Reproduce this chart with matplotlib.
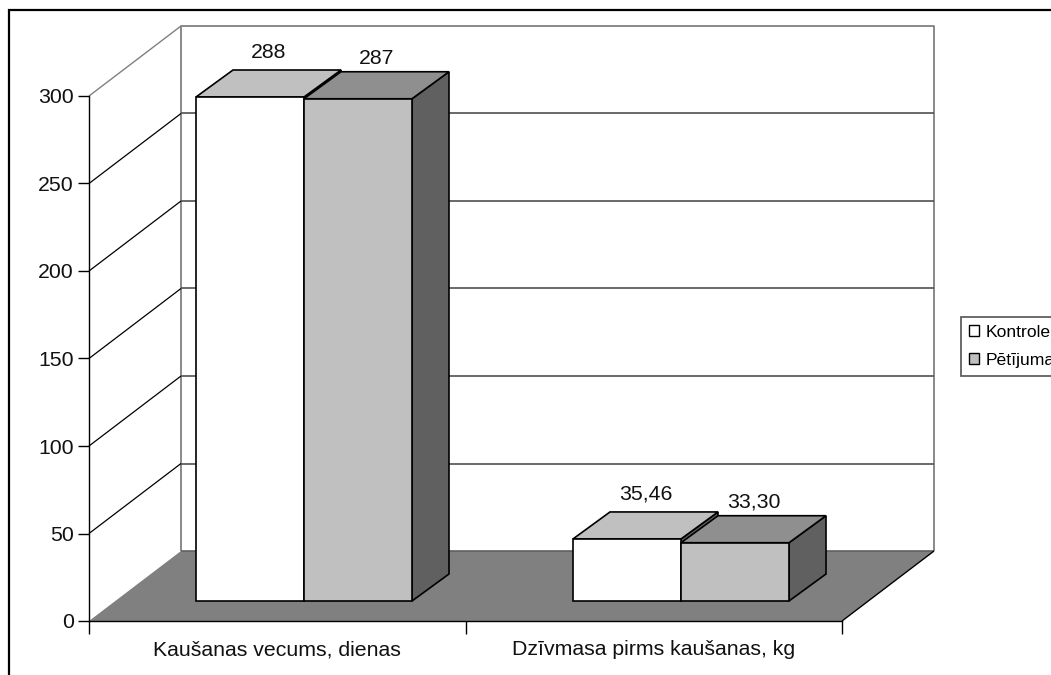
import matplotlib
matplotlib.use("Agg")
from matplotlib import pyplot as plt
from matplotlib.patches import Patch, Polygon, Rectangle

categories = ["Kaušanas vecums, dienas", "Dzīvmasa pirms kaušanas, kg"]
series_names = ["Kontrole", "Pētījuma"]
kontrole = [288, 35.46]
petijuma = [287, 33.30]
kontrole_labels = ["288", "35,46"]
petijuma_labels = ["287", "33,30"]
y_ticks = [0, 50, 100, 150, 200, 250, 300]

plt.rcParams["font.family"] = ["Liberation Sans", "DejaVu Sans"]

W, H = 1051, 675
fig = plt.figure(figsize=(W / 100, H / 100), dpi=100)

# priekšējā plakne: x 89..842, y 621..96 pikseļos
ax = fig.add_axes([89 / W, 1 - 621 / H, 753 / W, 525 / H])
ax.set_xlim(0, 2)
ax.set_ylim(0, 300)
ax.patch.set_alpha(0)

px_x = 2 / 753
px_y = 300 / 525
depth_x = 92 * px_x
depth_y = 70 * px_y


def poly(points, face, edge="black", lw=1.2, z=2):
    ax.add_patch(Polygon(points, closed=True, facecolor=face, edgecolor=edge,
                         linewidth=lw, clip_on=False, zorder=z, joinstyle="miter"))


def line(xs, ys, color="black", lw=1.0, z=1):
    ax.plot(xs, ys, color=color, lw=lw, clip_on=False, zorder=z, solid_capstyle="butt")


# grīda un sienas
poly([(0, 0), (2, 0), (2 + depth_x, depth_y), (depth_x, depth_y)], "#808080", edge="none", z=1)
line([depth_x, depth_x, 2 + depth_x, 2 + depth_x], [depth_y, 300 + depth_y, 300 + depth_y, depth_y],
     color="#808080", lw=1.3)
line([depth_x, 2 + depth_x], [depth_y, depth_y], color="#606060", lw=1.2)
line([2, 2 + depth_x], [0, depth_y], lw=1.0)
line([0, depth_x], [300, 300 + depth_y], color="#808080", lw=1.0)
for t in y_ticks[1:-1]:
    line([0, depth_x], [t, t + depth_y], lw=0.9)
    line([depth_x, 2 + depth_x], [t + depth_y, t + depth_y], color="#505050", lw=1.2)


# stabiņa 3D forma
def bar3d(x0, width, value, front, top, side, z):
    y0 = 20 * px_y
    dx = 37 * px_x
    dy = 27 * px_y
    x1 = x0 + width
    y1 = y0 + value
    poly([(x1, y0), (x1 + dx, y0 + dy), (x1 + dx, y1 + dy), (x1, y1)], side, z=z)
    poly([(x0, y1), (x1, y1), (x1 + dx, y1 + dy), (x0 + dx, y1 + dy)], top, z=z)
    poly([(x0, y0), (x1, y0), (x1, y1), (x0, y1)], front, z=z + 0.5)
    return x0 + width / 2 + dx / 2, y1 + dy


bar_w = 108 * px_x
starts = [(196 - 89) * px_x, (573 - 89) * px_x]
for i, s in enumerate(starts):
    cx, cy = bar3d(s, bar_w, kontrole[i], "white", "#c0c0c0", "#606060", 3)
    ax.text(cx, cy + 12 * px_y, kontrole_labels[i], ha="center", va="baseline", fontsize=15.3,
            color="#111111", clip_on=False, zorder=6)
    cx, cy = bar3d(s + bar_w, bar_w, petijuma[i], "#c0c0c0", "#8f8f8f", "#606060", 4)
    ax.text(cx, cy + 8 * px_y, petijuma_labels[i], ha="center", va="baseline", fontsize=15.3,
            color="#111111", clip_on=False, zorder=6)

# asis
for side in ["top", "right"]:
    ax.spines[side].set_visible(False)
for side in ["left", "bottom"]:
    ax.spines[side].set_linewidth(1.0)
    ax.spines[side].set_color("black")
    ax.spines[side].set_zorder(7)
ax.set_yticks(y_ticks)
ax.set_xticks([0, 1, 2])
ax.set_xticklabels([])
ax.set_xticks([0.5, 1.5], minor=True)
ax.set_xticklabels(categories, minor=True, fontsize=15.3, color="#111111")
ax.tick_params(axis="x", which="minor", length=0, pad=14)
ax.tick_params(axis="x", which="major", length=9, width=1)
ax.tick_params(axis="y", length=8, width=1, labelsize=15.3, pad=3, labelcolor="#111111")

# ārējais rāmis
fig.add_artist(Rectangle((9 / W, -5 / H), W, (H - 10 + 5) / H, transform=fig.transFigure,
                         facecolor="none", edgecolor="black", linewidth=1.6))

handles = [Patch(facecolor="white", edgecolor="black", linewidth=1.0),
           Patch(facecolor="#c0c0c0", edgecolor="black", linewidth=1.0)]
leg = ax.legend(handles, series_names, loc="upper left", bbox_to_anchor=(961 / W, 1 - 317 / H),
                bbox_transform=fig.transFigure, borderaxespad=0, fontsize=12.6, fancybox=False,
                edgecolor="#606060", framealpha=1, handlelength=0.57, handleheight=0.57,
                handletextpad=0.4, labelspacing=0.75, borderpad=0.45)
leg.get_frame().set_linewidth(1.3)
leg.set_zorder(8)

fig.savefig("out.png", dpi=100)
